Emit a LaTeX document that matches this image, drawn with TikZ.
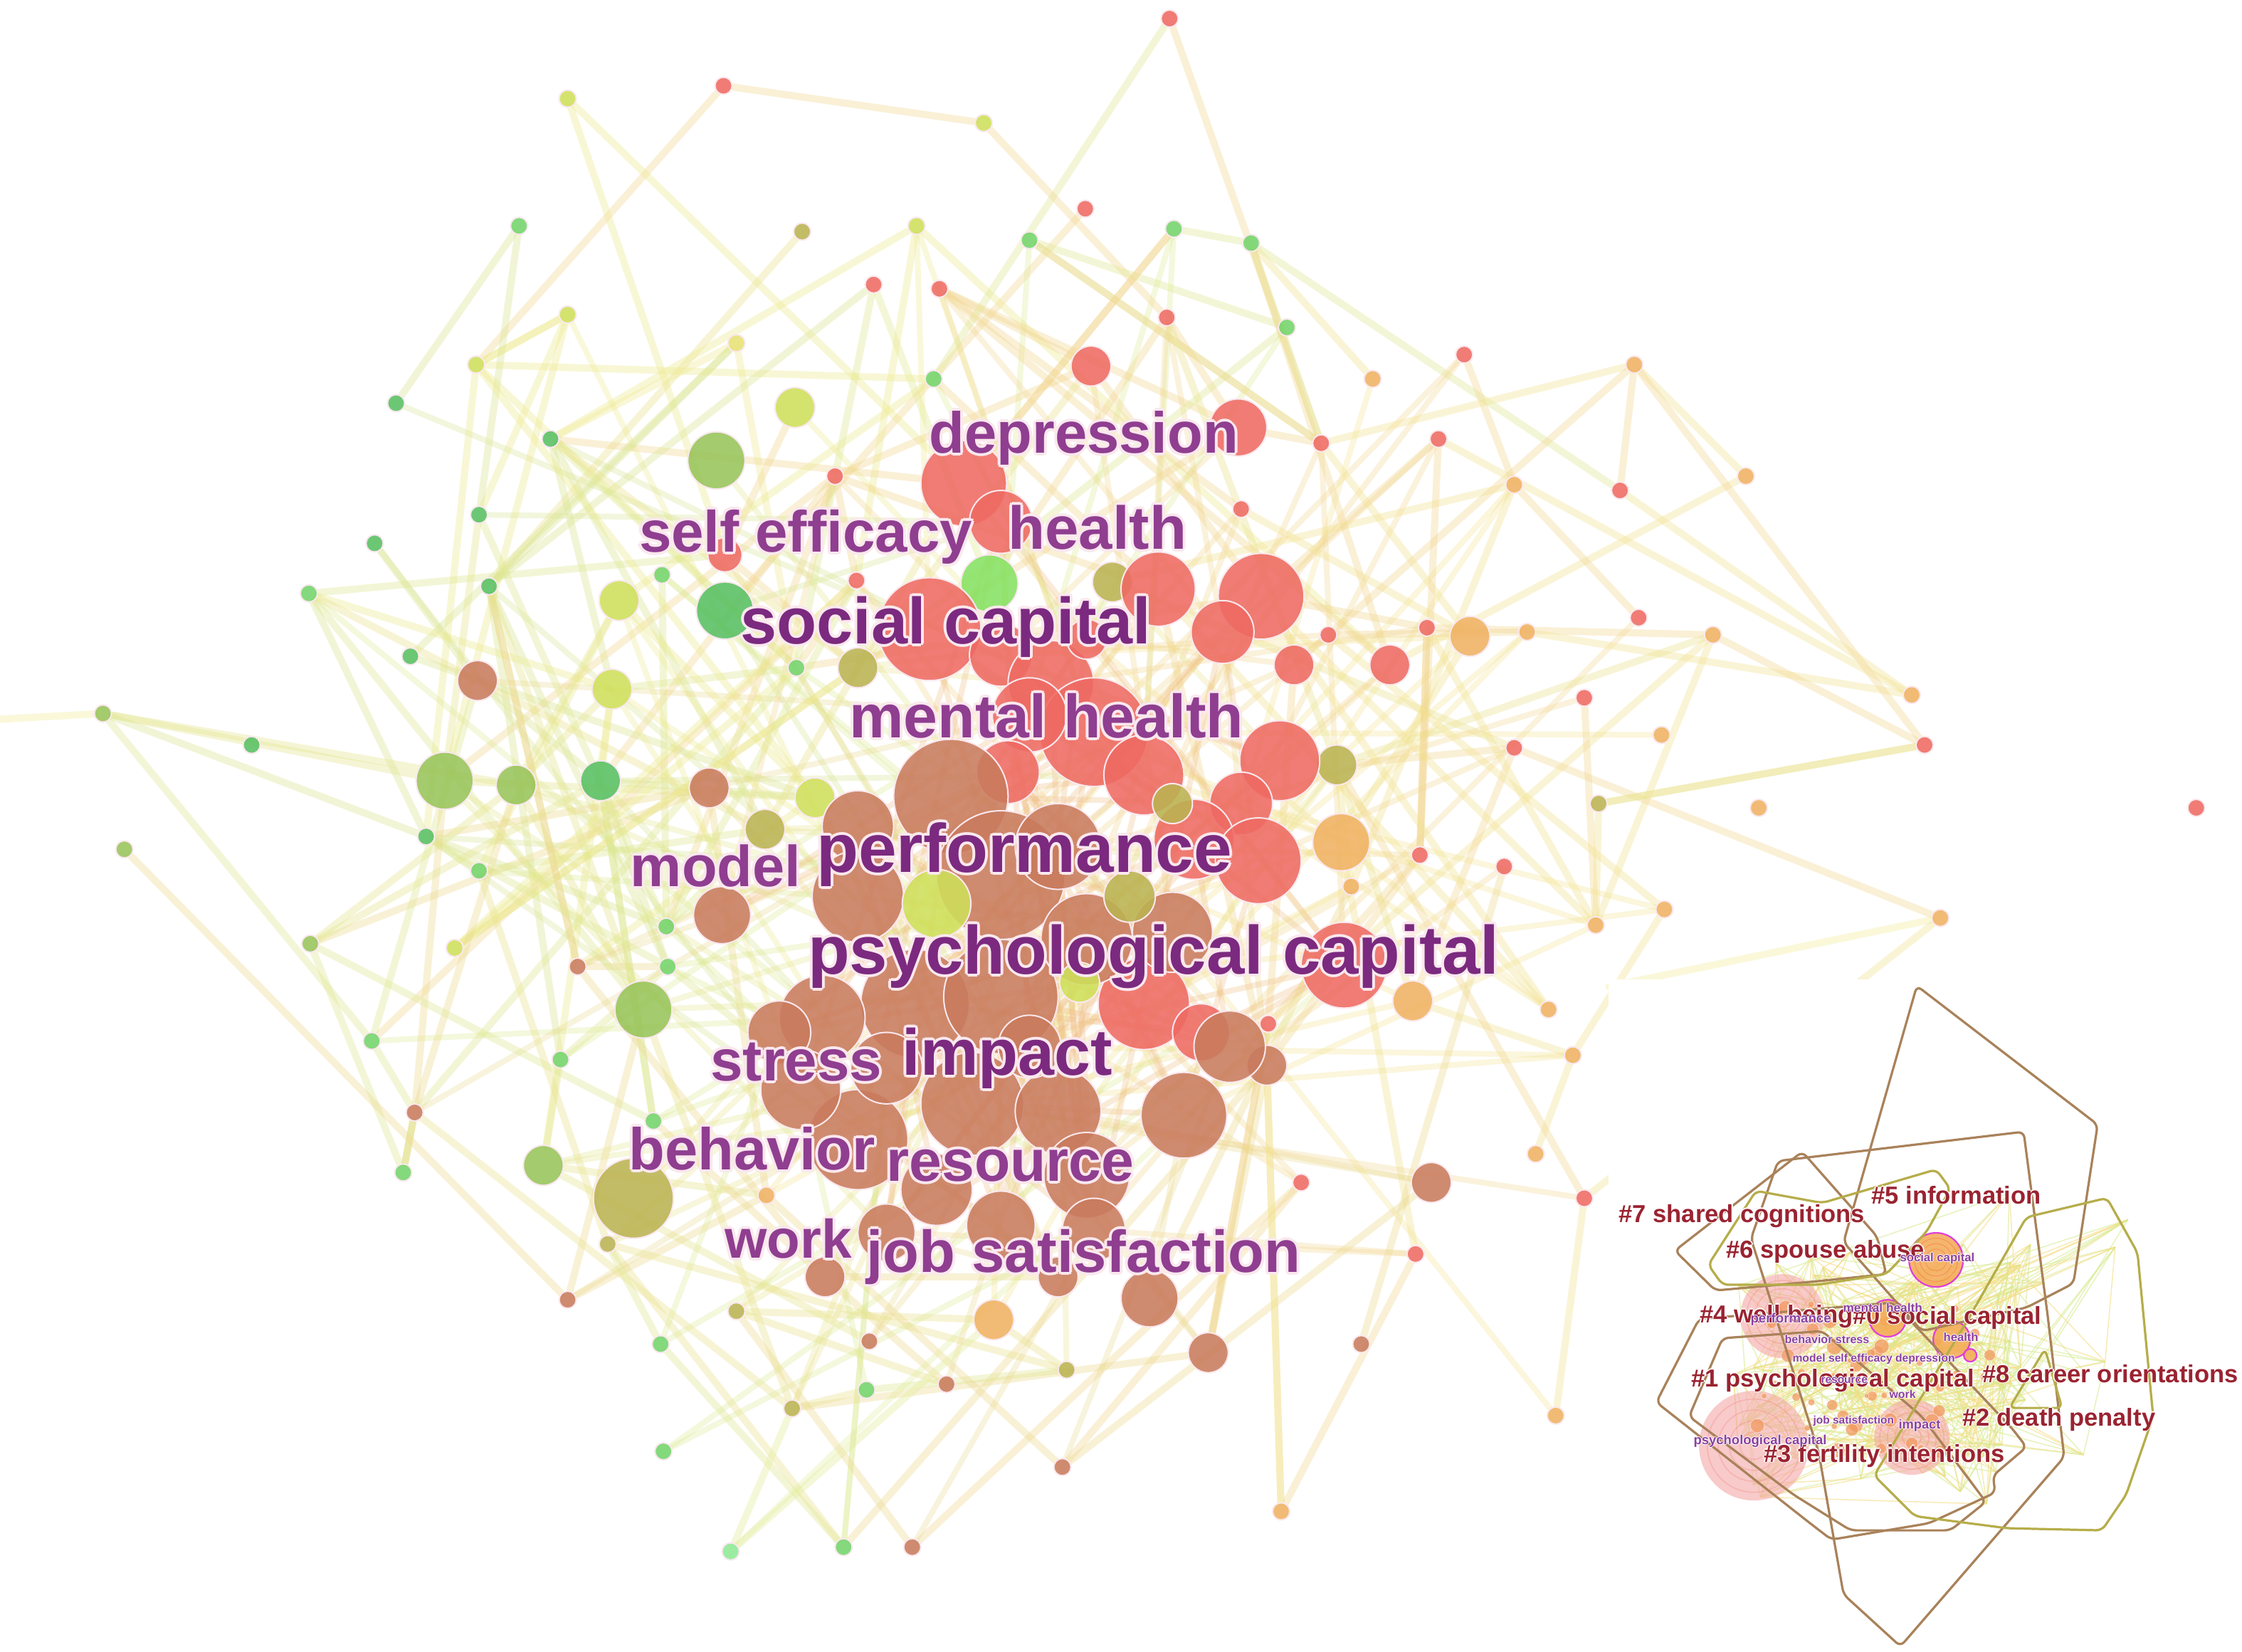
\documentclass[tikz,border=0pt]{standalone}
\usepackage{fontspec}
\setmainfont{Liberation Sans}
\pgfdeclarelayer{back}
\pgfdeclarelayer{edges}
\pgfdeclarelayer{top}
\pgfsetlayers{back,edges,main,top}
\definecolor{cred}{HTML}{EE6A62}
\definecolor{cbrown}{HTML}{C97B5D}
\definecolor{corange}{HTML}{F0B262}
\definecolor{cyellow}{HTML}{E8E274}
\definecolor{cyg}{HTML}{CFE05A}
\definecolor{colive}{HTML}{BBB352}
\definecolor{cmgreen}{HTML}{98C459}
\definecolor{cgreen}{HTML}{74D46A}
\definecolor{cgreen2}{HTML}{58C062}
\definecolor{cbgreen}{HTML}{86E262}
\definecolor{clgreen}{HTML}{8EEA94}
\definecolor{edgeY}{HTML}{F3EC96}
\definecolor{lblpurple}{HTML}{8F3E90}
\definecolor{lbldark}{HTML}{7B2A7F}
\definecolor{clusred}{HTML}{9A2331}
\definecolor{hullbrown}{HTML}{A9825A}
\definecolor{hullolive}{HTML}{B6AD4A}
\definecolor{halo}{HTML}{FAE8EE}
\definecolor{ilinkc}{HTML}{D6EA8E}
\definecolor{iorange}{HTML}{F29A62}
\definecolor{ipink}{HTML}{F4A8A8}
\definecolor{magentaR}{HTML}{E040D8}
\definecolor{spurple}{HTML}{8A40A0}
\tikzset{
 bub/.style={circle, inner sep=0pt, draw=halo, line width=1pt, fill opacity=0.88},
 lnk/.style={line width=5pt, opacity=0.36, line cap=round},
 hublnk/.style={line width=4pt, opacity=0.30, line cap=round},
 mlbl/.style={anchor=base west, inner sep=0pt, outer sep=0pt},
 clbl/.style={anchor=west, inner sep=0pt, text height=0.72em, text depth=0.21em, font=\fontsize{17.2pt}{18pt}\selectfont\bfseries},
 slbl/.style={anchor=west, inner sep=0pt, text height=0.72em, text depth=0.21em},
 hullB/.style={draw=hullbrown, line width=1.6pt, rounded corners=4pt, line join=round},
 hullO/.style={draw=hullolive, line width=1.6pt, rounded corners=4pt, line join=round},
 ilink/.style={line width=0.8pt, opacity=0.55},
 ibub/.style={circle, inner sep=0pt, fill=iorange, fill opacity=0.75, draw=white, draw opacity=0.6, line width=0.3pt},
}
\newcommand\biglabel[6]{%
  \foreach \hx/\hy [count=\hk] in {2/0,-2/0,0/2,0/-2,1.4/1.4,-1.4/1.4,1.4/-1.4,-1.4/-1.4}{%
    \node[mlbl, text=halo, font=\fontsize{#4pt}{#4pt}\selectfont\bfseries] (#1h\hk) at ([xshift=\hx pt, yshift=\hy pt]#2,#3) {#6};
  }%
  \node[mlbl, text=#5, font=\fontsize{#4pt}{#4pt}\selectfont\bfseries] (#1) at (#2,#3) {#6};
}
\newcommand\clabel[4]{%
  \foreach \hx/\hy [count=\hk] in {0.8/0,-0.8/0,0/0.8,0/-0.8}{%
    \node[clbl, text=white] (#1h\hk) at ([xshift=\hx pt, yshift=\hy pt]#2,#3) {#4};
  }%
  \node[clbl, text=clusred] (#1) at (#2,#3) {#4};
}
\newcommand\slabel[5]{%
  \foreach \hx/\hy [count=\hk] in {0.5/0,-0.5/0,0/0.5,0/-0.5}{%
    \node[slbl, text=white, font=\fontsize{#4pt}{#4pt}\selectfont\bfseries] (#1h\hk) at ([xshift=\hx pt, yshift=\hy pt]#2,#3) {#5};
  }%
  \node[slbl, text=spurple, font=\fontsize{#4pt}{#4pt}\selectfont\bfseries] (#1) at (#2,#3) {#5};
}
\begin{document}
\begin{tikzpicture}[x=1pt,y=-1pt]
\useasboundingbox (0,0) rectangle (1568,1155);
\begin{pgfonlayer}{back}\fill[white] (0,0) rectangle (1568,1155);\end{pgfonlayer}

% outer nodes
\foreach \x/\y/\r/\c [count=\i] in {
818/13/6/cred, 506/60/6/cred, 397/69/6/cyg, 688/86/6/cyg, 759/146/6/cred,
363/158/6/cgreen, 561/162/6/colive, 641/158/6/cyg, 720/168/6/cgreen, 821/160/6/cgreen,
875/170/6/cgreen, 611/199/6/cred, 657/202/6/cred, 397/220/6/cyg, 515/240/6/cyellow,
333/255/6/cyg, 763/256/14/cred, 653/265/6/cgreen, 816/222/6/cred, 900/229/6/cgreen,
277/282/6/cgreen2, 385/307/6/cgreen2, 556/285/14/cyg, 501/322/20/cmgreen, 866/299/20/cred,
1024/248/6/cred, 960/265/6/corange, 1143/255/6/corange, 1006/307/6/cred, 924/310/6/cred,
584/333/6/cred, 674/338/30/cred, 1059/339/6/corange, 1133/343/6/cred, 1221/333/6/corange,
335/360/6/cgreen2, 262/380/6/cgreen2, 868/356/6/cred, 463/402/6/cgreen, 507/388/12/cred,
216/415/6/cgreen, 342/410/6/cgreen2, 433/420/14/cyg, 507/427/20/cgreen2, 692/408/20/cbgreen,
778/407/14/colive, 810/412/26/cred, 882/417/30/cred, 599/406/6/cred, 1028/445/14/corange,
1146/432/6/cred, 1198/444/6/corange, 1068/442/6/corange, 929/444/6/cred, 998/439/6/cred,
287/459/6/cgreen2, 334/476/14/cbrown, 428/482/14/cyg, 557/467/6/cgreen, 600/467/14/colive,
905/465/14/cred, 972/465/14/cred, 1108/488/6/cred, 1337/486/6/corange, 72/499/6/cmgreen,
176/521/6/cgreen2, 311/546/20/cmgreen, 361/549/14/cmgreen, 420/546/14/cgreen2, 496/551/14/cbrown,
570/558/14/cyg, 1162/514/6/corange, 1059/523/6/cred, 1346/521/6/cred, 935/535/14/colive,
298/585/6/cgreen2, 87/594/6/cmgreen, 335/609/6/cgreen, 535/580/14/colive, 938/589/20/corange,
1118/562/6/colive, 1230/565/6/corange, 1536/565/6/cred, 993/598/6/cred, 1052/606/6/cred,
217/660/6/cmgreen, 318/663/6/cyg, 466/648/6/cgreen, 1164/636/6/corange, 1357/642/6/corange,
945/620/6/corange, 1116/647/6/corange, 404/676/6/cbrown, 467/676/6/cgreen, 988/700/14/corange,
450/706/20/cmgreen, 260/728/6/cgreen, 887/716/6/cred, 1083/706/6/corange, 1100/738/6/corange,
392/741/6/cgreen, 886/745/14/cbrown, 290/778/6/cbrown, 457/784/6/cgreen, 282/820/6/cgreen,
380/815/14/cmgreen, 443/838/28/colive, 910/827/6/cred, 1001/827/14/cbrown, 1074/807/6/corange,
536/836/6/corange, 425/870/6/colive, 990/877/6/cred, 1108/838/6/cred, 577/893/14/cbrown,
740/893/14/cbrown, 804/908/20/cbrown, 397/909/6/cbrown, 515/917/6/colive, 695/923/14/corange,
608/938/6/cbrown, 746/958/6/colive, 845/946/14/cbrown, 462/940/6/cgreen, 952/940/6/cbrown,
662/968/6/cbrown, 606/972/6/cgreen, 554/985/6/colive, 1088/990/6/corange, 464/1015/6/cgreen,
743/1026/6/cbrown, 511/1085/6/clgreen, 590/1082/6/cgreen, 638/1082/6/cbrown, 896/1057/6/corange}{
  \node[bub, fill=\c, minimum size=\r*2pt] (n\i) at (\x,\y) {};
  \expandafter\xdef\csname nc\i\endcsname{\c}
  \xdef\NN{\i}
}
% central cluster
\foreach \x/\y/\r/\c [count=\i] in {
700/365/22/cred, 650/440/36/cred, 700/458/22/cred, 735/478/30/cred, 765/512/38/cred,
855/442/22/cred, 720/500/26/cred, 800/542/28/cred, 705/540/22/cred, 895/532/28/cred,
868/562/22/cred, 835/587/28/cred, 880/602/30/cred, 760/447/14/cred, 940/675/30/cred,
800/702/32/cred, 840/722/20/cred,
665/557/40/cbrown, 600/578/25/cbrown, 700/612/45/cbrown, 740/592/30/cbrown, 600/627/32/cbrown,
505/640/20/cbrown, 640/702/38/cbrown, 575/712/30/cbrown, 545/722/22/cbrown, 700/697/40/cbrown,
760/657/32/cbrown, 820/652/28/cbrown, 680/772/36/cbrown, 740/777/30/cbrown, 828/780/30/cbrown,
600/797/35/cbrown, 560/762/28/cbrown, 620/747/25/cbrown, 720/732/22/cbrown, 655/832/25/cbrown,
760/822/30/cbrown, 620/862/20/cbrown, 700/857/24/cbrown, 765/860/22/cbrown, 860/732/25/cbrown,
655/632/24/cyg, 790/627/18/colive, 755/687/14/cyg, 820/562/14/colive}{
  \node[bub, fill=\c, minimum size=\r*2pt] (c\i) at (\x,\y) {};
  \xdef\NC{\i}
}
\coordinate (fe1) at (0,503);
\coordinate (fe2) at (1125,690);
% connectors
\begin{pgfonlayer}{edges}
\draw[lnk, draw=edgeY] (fe1) -- (n65);
\draw[lnk, draw=edgeY] (n90) -- (fe2);
\pgfmathsetseed{4242}
\foreach \i in {1,...,\NN}{
  \pgfpointanchor{n\i}{center}\pgfgetlastxy{\xa}{\ya}
  \edef\ec{\csname nc\i\endcsname}
  \foreach \k in {1,...,6}{
    \pgfmathrandominteger{\j}{1}{\NN}
    \pgfpointanchor{n\j}{center}\pgfgetlastxy{\xb}{\yb}
    \pgfmathtruncatemacro\ok{and(and(abs(\xa-\xb)<340, abs(\ya-\yb)<340), \i!=\j)}
    \ifnum\ok=1
      \draw[lnk, draw=\ec!16!edgeY] (n\i) -- (n\j);
    \fi
  }
  \foreach \k in {1,2}{
    \pgfmathrandominteger{\h}{1}{\NC}
    \pgfpointanchor{c\h}{center}\pgfgetlastxy{\xb}{\yb}
    \pgfmathtruncatemacro\ok{and(abs(\xa-\xb)<430, abs(\ya-\yb)<430)}
    \ifnum\ok=1
      \draw[hublnk, draw=\ec!18!edgeY] (n\i) -- (c\h);
    \fi
  }
}
\foreach \i in {1,...,\NC}{
  \foreach \k in {1,2}{
    \pgfmathrandominteger{\j}{1}{\NC}
    \draw[hublnk, draw=cred!35!edgeY] (c\i) -- (c\j);
  }
}
\end{pgfonlayer}

% main labels
\biglabel{ldep}{650}{317}{40.5}{lblpurple}{depression}
\biglabel{lself}{447}{386}{40.7}{lblpurple}{self efficacy}
\biglabel{lhea}{705}{384}{42.4}{lblpurple}{health}
\biglabel{lsoc}{518}{450}{45.7}{lbldark}{social capital}
\biglabel{lmen}{594}{516}{42.8}{lblpurple}{mental health}
\biglabel{lmod}{441}{620}{40.4}{lblpurple}{model}
\biglabel{lper}{571}{610}{48}{lbldark}{performance}
\biglabel{lpsy}{565}{681}{47.8}{lbldark}{psychological capital}
\biglabel{lstr}{497}{756}{40.7}{lblpurple}{stress}
\biglabel{limp}{631}{752}{45.6}{lbldark}{impact}
\biglabel{lbeh}{440}{818}{41.3}{lblpurple}{behavior}
\biglabel{lres}{620}{826}{41}{lblpurple}{resource}
\biglabel{lwor}{507}{880}{38}{lblpurple}{work}
\biglabel{ljob}{606}{890}{41.4}{lblpurple}{job satisfaction}

% inset
\begin{pgfonlayer}{top}
\fill[white] (1125,685) rectangle (1568,1155);
\begin{scope}[x=0.4978pt, y=-0.4978pt]
\pgfmathsetseed{77}
\foreach \i in {1,...,70}{
  \pgfmathsetmacro\px{2640+210*rand}
  \pgfmathsetmacro\py{1910+170*rand}
  \coordinate (p\i) at (\px,\py);
}
\foreach \i in {71,...,95}{
  \pgfmathsetmacro\px{2720+300*rand}
  \pgfmathsetmacro\py{1920+250*rand}
  \coordinate (p\i) at (\px,\py);
}
\foreach \i in {1,...,95}{
  \foreach \k in {1,2,3,4}{
    \pgfmathrandominteger{\j}{1}{95}
    \ifodd\k
      \draw[ilink, draw=ilinkc] (p\i) -- (p\j);
    \else
      \draw[ilink, draw=edgeY!85!orange] (p\i) -- (p\j);
    \fi
  }
}
% big pink circles
\foreach \x/\y/\r [count=\i] in {2504/1849/59, 2464/2031/77, 2686/2019/53}{
  \node[circle, inner sep=0pt, fill=ipink, fill opacity=0.6, minimum size=\r*0.9956pt] (pk\i) at (\x,\y) {};
  \foreach \f in {0.85,0.65,0.45,0.25}{
    \draw[ipink!80!red, opacity=0.35, line width=0.8pt] (pk\i.center) circle [radius=\f*\r];
  }
}
% small orange bubbles
\foreach \i in {1,...,60}{
  \pgfmathsetmacro\px{2630+170*rand}
  \pgfmathsetmacro\py{1935+105*rand}
  \pgfmathsetmacro\pr{3+8*rnd}
  \node[ibub, minimum size=\pr pt] (o\i) at (\px,\py) {};
}
% ringed bubbles
\foreach \x/\y/\r [count=\i] in {2720/1770/38, 2652/1852/26, 2742/1882/26, 2768/1904/9}{
  \node[circle, inner sep=0pt, fill=iorange!85!yellow, fill opacity=0.85, draw=magentaR, line width=1.1pt, minimum size=\r*0.9956pt] (m\i) at (\x,\y) {};
}
\foreach \f in {0.8,0.6,0.4}{
  \draw[iorange!70!red, opacity=0.4, line width=0.6pt] (m1.center) circle [radius=\f*38];
}
% cluster hulls
\draw[hullB] (2693,1385) -- (2947,1580) -- (2913,1803) -- (2847,1837) -- (2700,1870) -- (2590,1745) -- cycle;
\draw[hullB] (2498,1631) -- (2843,1590) -- (2877,1850) -- (2900,2047) -- (2670,2313) -- (2590,2240) -- (2555,2040) -- (2460,1740) -- cycle;
\draw[hullB] (2387,1853) -- (2327,1970) -- (2543,2140) -- (2573,2163) -- (2710,2140) -- (2803,2097) -- (2800,2073) -- (2847,2033) -- (2827,2007) -- (2660,1830) -- cycle;
\draw[hullB] (2420,1880) -- (2373,1990) -- (2520,2100) -- (2600,2150) -- (2740,2150) -- (2790,2110) -- (2700,1990) -- (2560,1870) -- cycle;
\draw[hullB] (2532,1618) -- (2637,1737) -- (2650,1790) -- (2553,1800) -- (2410,1813) -- (2353,1757) -- cycle;
\draw[hullO] (2400,1777) -- (2467,1673) -- (2560,1690) -- (2720,1643) -- (2740,1670) -- (2707,1730) -- (2650,1790) -- (2553,1805) -- (2420,1805) -- cycle;
\draw[hullO] (2847,1710) -- (2960,1683) -- (3003,1760) -- (3025,1990) -- (2987,2100) -- (2953,2150) -- (2820,2147) -- (2690,2130) -- (2633,2073) -- (2767,1850) -- cycle;
\draw[hullO] (2873,1895) -- (2823,1978) -- (2897,1978) -- cycle;
% cluster labels
\clabel{k7}{2274}{1712}{\#7 shared cognitions}
\clabel{k5}{2629}{1686}{\#5 information}
\clabel{k6}{2425}{1762}{\#6 spouse abuse}
\clabel{k4}{2388}{1853}{\#4 well being}
\clabel{k0}{2603}{1855}{\#0 social capital}
\clabel{k1}{2376}{1943}{\#1 psychological capital}
\clabel{k8}{2785}{1937}{\#8 career orientations}
\clabel{k2}{2757}{1998}{\#2 death penalty}
\clabel{k3}{2478}{2049}{\#3 fertility intentions}
% small keyword labels
\slabel{s1}{2669}{1767}{8.3}{social capital}
\slabel{s2}{2589}{1838}{8.6}{mental health}
\slabel{s3}{2459}{1853}{9.3}{performance}
\slabel{s4}{2507}{1882}{8}{behavior stress}
\slabel{s5}{2730}{1879}{8.3}{health}
\slabel{s6}{2518}{1908}{7.8}{model self efficacy depression}
\slabel{s7}{2558}{1938}{7.7}{resource}
\slabel{s8}{2654}{1959}{7.9}{work}
\slabel{s9}{2547}{1995}{7.7}{job satisfaction}
\slabel{s10}{2667}{2002}{9.1}{impact}
\slabel{s11}{2379}{2024}{9.2}{psychological capital}
\end{scope}
\end{pgfonlayer}
\end{tikzpicture}
\end{document}
